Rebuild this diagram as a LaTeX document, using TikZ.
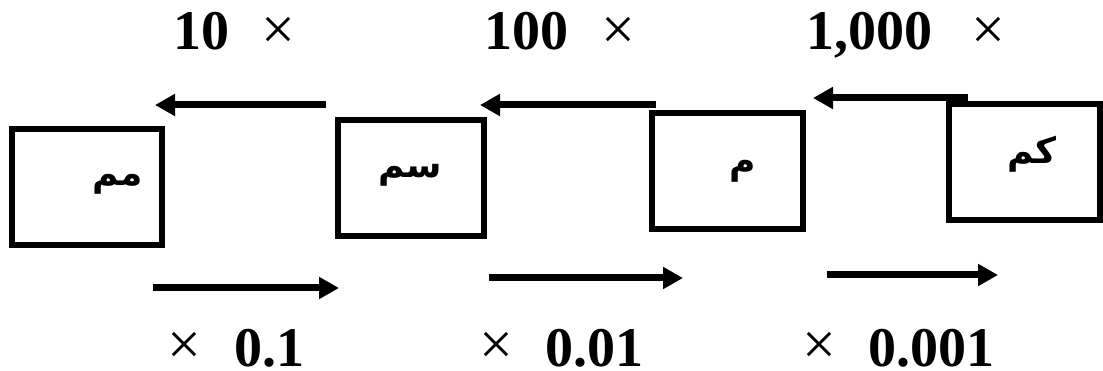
\documentclass[tikz,border=0pt]{standalone}
\usepackage{fontspec}
\setmainfont{Liberation Serif}
\newfontfamily\arabicfont[Script=Arabic]{DejaVu Sans}
\TeXXeTstate=1
\usetikzlibrary{arrows.meta}
\begin{document}
\begin{tikzpicture}[x=1pt,y=-1pt,
  unitbox/.style={draw,line width=6pt,minimum width=#1,minimum height=116pt,inner sep=0pt},
  arlabel/.style={inner sep=0pt,font=\arabicfont\bfseries\fontsize{36}{40}\selectfont},
  numlabel/.style={inner sep=0pt,anchor=base west,font=\bfseries\fontsize{56}{60}\selectfont},
  timeslabel/.style={inner sep=0pt,font=\fontsize{60}{64}\selectfont},
  conv/.style={line width=7pt,-{Triangle[length=20pt,width=21pt]}}]
\useasboundingbox (0,0) rectangle (1103,371);
% boxes
\node[unitbox=150pt] (mm) at (87,187) {};
\node[unitbox=146pt] (cm) at (411,178) {};
\node[unitbox=151pt] (m)  at (727.5,171.5) {};
\node[unitbox=151pt] (km) at (1024.5,162) {};
% arabic labels
\node[arlabel] (tmm) at (118,184) {\beginR مم\endR};
\node[arlabel] (tcm) at (410,175) {\beginR سم\endR};
\node[arlabel] (tm)  at (743,171) {\beginR م\endR};
\node[arlabel] (tkm) at (1032,154) {\beginR كم\endR};
% top arrows
\coordinate (a1s) at (326,105); \coordinate (a1e) at (155,105);
\coordinate (a2s) at (656,105); \coordinate (a2e) at (480,105);
\coordinate (a3s) at (968,98);  \coordinate (a3e) at (813,98);
\draw[conv] (a1s) -- (a1e);
\draw[conv] (a2s) -- (a2e);
\draw[conv] (a3s) -- (a3e);
% bottom arrows
\coordinate (b1s) at (153,288); \coordinate (b1e) at (339,288);
\coordinate (b2s) at (489,278); \coordinate (b2e) at (683,278);
\coordinate (b3s) at (827,275); \coordinate (b3e) at (998,275);
\draw[conv] (b1s) -- (b1e);
\draw[conv] (b2s) -- (b2e);
\draw[conv] (b3s) -- (b3e);
% top labels
\node[numlabel] (n10) at (173,50) {10};
\node[timeslabel] (x10) at (278,33) {×};
\node[numlabel] (n100) at (484,50) {100};
\node[timeslabel] (x100) at (618,33) {×};
\node[numlabel] (n1000) at (806,50) {1,000};
\node[timeslabel] (x1000) at (988,33) {×};
% bottom labels
\node[timeslabel] (y1) at (184,348) {×};
\node[numlabel] (d1) at (234,366) {0.1};
\node[timeslabel] (y2) at (496,348) {×};
\node[numlabel] (d2) at (545,366) {0.01};
\node[timeslabel] (y3) at (819,348) {×};
\node[numlabel] (d3) at (868,366) {0.001};
\end{tikzpicture}
\end{document}
